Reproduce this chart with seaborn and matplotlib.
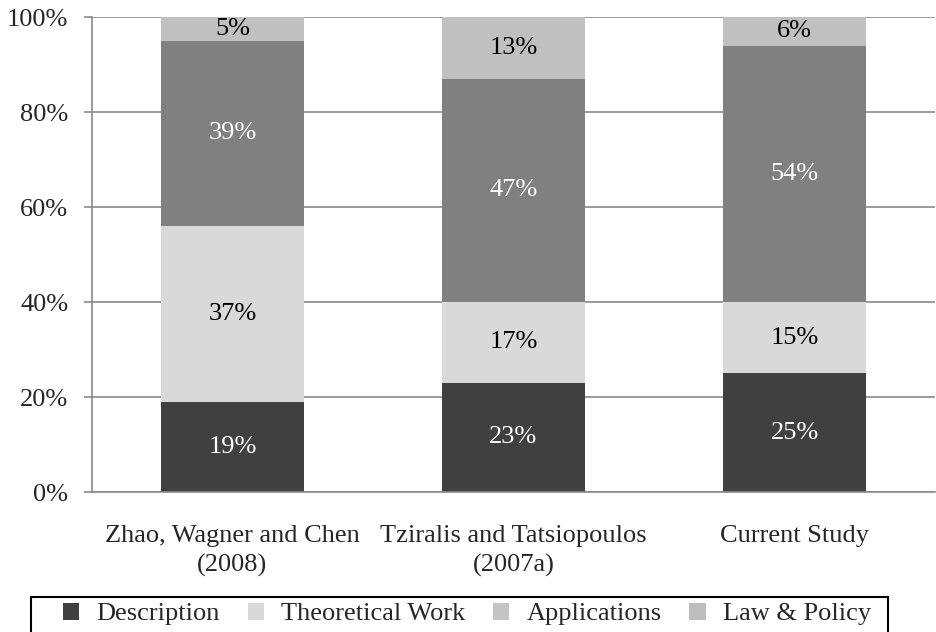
import numpy as np
import pandas as pd
import matplotlib.pyplot as plt
import seaborn as sns
from matplotlib.patches import Patch, Rectangle

# Data (percent)
studies = ['Zhao, Wagner and Chen\n(2008)', 'Tziralis and Tatsiopoulos\n(2007a)', 'Current Study']
series = ['Description', 'Theoretical Work', 'Applications', 'Law & Policy']
description = [19, 23, 25]
theoretical = [37, 17, 15]
applications = [39, 47, 54]
law_policy = [5, 13, 6]

bar_colors = ['#404040', '#d9d9d9', '#808080', '#c0c0c0']
legend_colors = ['#404040', '#d9d9d9', '#c4c4c4', '#bdbdbd']
text_colors = ['white', 'black', 'white', 'black']

sns.set_style('white')
plt.rcParams['font.family'] = ['Liberation Serif', 'DejaVu Serif']
FS = 19

values = np.array([description, theoretical, applications, law_policy], dtype=float)
cum = np.cumsum(values, axis=0)

fig = plt.figure(figsize=(9.37, 6.32), dpi=100)
ax = fig.add_axes([0.098, 0.2215, 0.9, 0.7515])

# draw stacked bars from the top layer down so each layer covers the one above
for i in range(len(series) - 1, -1, -1):
    df = pd.DataFrame({'study': studies, 'total': cum[i]})
    sns.barplot(data=df, x='study', y='total', color=bar_colors[i],
                width=0.51, saturation=1, linewidth=0, ax=ax, zorder=2)

# segment labels
for i in range(len(series)):
    for j in range(len(studies)):
        mid = cum[i, j] - values[i, j] / 2
        ax.text(j, mid, f'{int(values[i, j])}%', ha='center', va='center',
                fontsize=FS, color=text_colors[i], zorder=3)

ax.set_ylim(0, 100)
ax.set_xlim(-0.5, 2.5)
ax.set_yticks(np.arange(0, 101, 20))
ax.set_yticklabels([f'{v}%' for v in range(0, 101, 20)], fontsize=FS)
ax.grid(axis='y', color='#8a8a8a', linewidth=1.2, zorder=0)
ax.set_axisbelow(True)
ax.set_xlabel('')
ax.set_ylabel('')

ax.set_xticks(range(len(studies)))
ax.set_xticklabels(studies, fontsize=FS, linespacing=1.38)
ax.set_xticks([-0.5, 0.5, 1.5, 2.5], minor=True)
ax.tick_params(axis='x', which='major', length=0, pad=24)
ax.tick_params(axis='x', which='minor', length=6, color='#8a8a8a', width=1.2)
ax.tick_params(axis='y', length=6, color='#8a8a8a', width=1.2, pad=11, left=True)

for s in ['top', 'right']:
    ax.spines[s].set_visible(False)
for s in ['left', 'bottom']:
    ax.spines[s].set_color('#8a8a8a')
    ax.spines[s].set_linewidth(1.2)

# legend box drawn by hand (the reference has uneven padding)
fig.patches.append(Rectangle((31 / 937, -0.01), 857 / 937, 1 - 597 / 632 + 0.01,
                             transform=fig.transFigure, fill=False,
                             edgecolor='black', linewidth=1.5))

handles = [Patch(facecolor=c, edgecolor='none') for c in legend_colors]
leg = fig.legend(handles, series, loc='center left', ncol=4,
                 bbox_to_anchor=(63 / 937, 1 - 614 / 632),
                 fontsize=FS, frameon=False, borderaxespad=0, borderpad=0,
                 handlelength=0.62, handleheight=0.62, handletextpad=0.65,
                 columnspacing=1.05)

plt.savefig('out.png', dpi=100)
